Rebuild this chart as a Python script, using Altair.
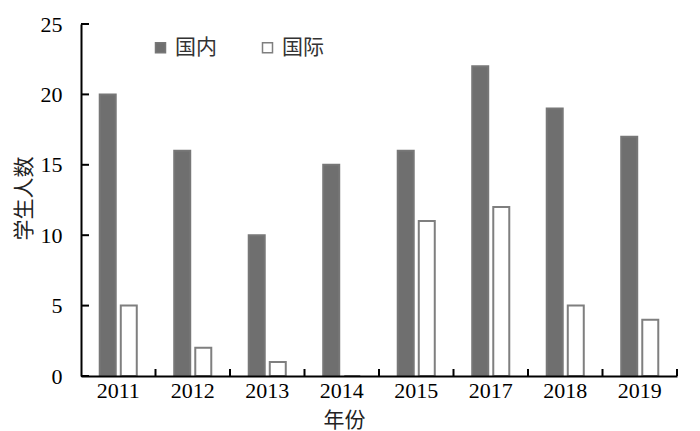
import altair as alt
import pandas as pd

years = ["2011", "2012", "2013", "2014", "2015", "2017", "2018", "2019"]
domestic = [20, 16, 10, 15, 16, 22, 19, 17]
international = [5, 2, 1, 0, 11, 12, 5, 4]
types = ["国内", "国际"]
y_ticks = [0, 5, 10, 15, 20, 25]

rows = []
for i, yr in enumerate(years):
    rows.append({"year": yr, "type": types[0], "count": domestic[i]})
    rows.append({"year": yr, "type": types[1], "count": international[i]})
df = pd.DataFrame(rows)

W, H = 596, 352
CJK = "Noto Sans CJK SC"
SERIF = "Liberation Serif"

xscale = alt.Scale(domain=years, paddingInner=0, paddingOuter=0)
yscale = alt.Scale(domain=[0, 25], nice=False)

xaxis = alt.Axis(title="年份", labelAngle=0, ticks=False, tickSize=0,
                 labelPadding=4, labelFont=SERIF, labelFontSize=22,
                 labelColor="black", titleFont=CJK, titleFontSize=21,
                 titleFontWeight="normal", titleColor="#222222",
                 titleX=263, titleY=44, titleBaseline="middle",
                 titleAlign="center", domainColor="black",
                 domainWidth=2, zindex=1)
yaxis = alt.Axis(title="学生人数", values=y_ticks, grid=False, ticks=False,
                 tickSize=0, labelPadding=19, labelFont=SERIF,
                 labelFontSize=22, labelColor="black", titleFont=CJK,
                 titleFontSize=21, titleFontWeight="normal",
                 titleColor="#222222", titleX=-57, titleY=174,
                 titleAngle=-90, titleAlign="center",
                 titleBaseline="middle", domainColor="black",
                 domainWidth=2, zindex=1)

legend = alt.Legend(
    orient="none", legendX=69, legendY=13, direction="horizontal", title=None,
    symbolType="square", symbolSize=100, symbolStrokeWidth=1.5,
    labelFont=CJK, labelFontSize=21, labelColor="#333333",
    columnPadding=40, labelOffset=4,
)

bars = alt.Chart(df).mark_bar(strokeWidth=2).encode(
    x=alt.X("year:N", scale=xscale, sort=years, axis=xaxis),
    xOffset=alt.XOffset("type:N", sort=types,
                        scale=alt.Scale(domain=types, paddingInner=0.24, paddingOuter=0.89)),
    y=alt.Y("count:Q", scale=yscale, axis=yaxis),
    fill=alt.Fill("type:N", sort=types,
                  scale=alt.Scale(domain=types, range=["#6f6f6f", "#ffffff"]),
                  legend=legend),
    stroke=alt.Stroke("type:N", sort=types,
                      scale=alt.Scale(domain=types, range=["#777777", "#7f7f7f"]),
                      legend=legend),
)

ytick_df = pd.DataFrame({"v": y_ticks})
yt = alt.Chart(ytick_df).mark_rule(color="black", strokeWidth=2).encode(
    y=alt.Y("v:Q", scale=yscale, axis=yaxis),
    x=alt.value(0), x2=alt.value(8),
)

xt = alt.Chart(pd.DataFrame({"year": years})).mark_rule(color="black", strokeWidth=2).encode(
    x=alt.X("year:N", scale=xscale, sort=years, bandPosition=1, axis=xaxis),
    y=alt.value(H - 7), y2=alt.value(H),
)

chart = alt.layer(bars, yt, xt).properties(
    width=W, height=H,
    background="white",
    autosize=alt.AutoSizeParams(type="none"),
    padding={"left": 73, "top": 16, "right": 15, "bottom": 55},
).configure_view(stroke=None)

chart.save("out.html", embed_options={"renderer": "svg", "actions": False})
